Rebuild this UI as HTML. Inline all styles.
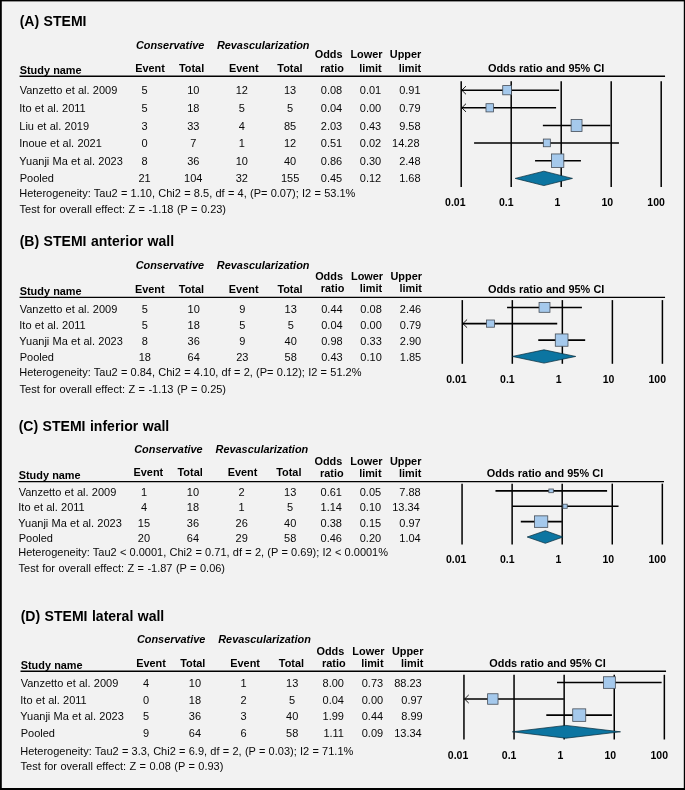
<!DOCTYPE html>
<html><head><meta charset="utf-8"><title>Forest plot</title>
<style>
html,body{margin:0;padding:0;background:#f2f2f2;}
body{width:685px;height:790px;overflow:hidden;position:relative;}
svg{position:absolute;left:0;top:0;display:block;will-change:transform;}
text{font-family:"Liberation Sans",sans-serif;font-size:11px;fill:#080808;word-spacing:0.2px;}
.het{word-spacing:0.2px;}
.tst{word-spacing:0.36px;}
.t{font-size:14.05px;font-weight:bold;fill:#000;word-spacing:0.5px;}
.b{font-weight:bold;fill:#000;font-size:10.9px;}
.bi{font-weight:bold;font-style:italic;fill:#000;font-size:10.9px;}
.ax{font-size:10.5px;font-weight:bold;fill:#000;}
.ln{stroke:#000;stroke-width:1.35;}
.vl{stroke:#000;stroke-width:1.5;}
.ci{stroke:#000;stroke-width:1.55;}
.ar{stroke:#000;stroke-width:0.9;fill:none;}
.sq{fill:#a5c9ec;stroke:#454d57;stroke-width:0.8;}
.dia{fill:#0c75a1;stroke:#062a3a;stroke-width:0.7;}
</style></head>
<body>
<svg width="685" height="790" viewBox="0 0 685 790">
<rect x="0" y="0" width="685" height="790" fill="#f2f2f2"/>
<text x="19.70" y="25.75" class="t">(A) STEMI</text>
<text x="135.90" y="48.75" class="bi">Conservative</text>
<text x="216.90" y="48.75" class="bi">Revascularization</text>
<text x="135.20" y="72.00" class="b">Event</text>
<text x="179.00" y="72.00" class="b">Total</text>
<text x="228.90" y="72.00" class="b">Event</text>
<text x="277.30" y="72.00" class="b">Total</text>
<text x="19.70" y="74.25" class="b">Study name</text>
<text x="342.50" y="57.50" class="b" text-anchor="end">Odds</text>
<text x="343.90" y="71.75" class="b" text-anchor="end">ratio</text>
<text x="382.50" y="57.50" class="b" text-anchor="end">Lower</text>
<text x="381.60" y="71.75" class="b" text-anchor="end">limit</text>
<text x="421.30" y="57.50" class="b" text-anchor="end">Upper</text>
<text x="421.20" y="71.75" class="b" text-anchor="end">limit</text>
<text x="488.00" y="72.00" class="b">Odds ratio and 95% CI</text>
<line x1="19.50" y1="76.25" x2="665.05" y2="76.25" class="ln"/>
<line x1="461.20" y1="81.25" x2="461.20" y2="187.00" class="vl"/>
<line x1="511.20" y1="81.25" x2="511.20" y2="187.00" class="vl"/>
<line x1="561.20" y1="81.25" x2="561.20" y2="187.00" class="vl"/>
<line x1="611.20" y1="81.25" x2="611.20" y2="187.00" class="vl"/>
<line x1="661.20" y1="81.25" x2="661.20" y2="187.00" class="vl"/>
<text x="19.70" y="94.30">Vanzetto et al. 2009</text>
<text x="144.50" y="94.30" text-anchor="middle">5</text>
<text x="193.30" y="94.30" text-anchor="middle">10</text>
<text x="241.80" y="94.30" text-anchor="middle">12</text>
<text x="290.10" y="94.30" text-anchor="middle">13</text>
<text x="342.20" y="94.30" text-anchor="end">0.08</text>
<text x="381.20" y="94.30" text-anchor="end">0.01</text>
<text x="420.60" y="94.30" text-anchor="end">0.91</text>
<text x="19.30" y="112.00">Ito et al. 2011</text>
<text x="144.50" y="112.00" text-anchor="middle">5</text>
<text x="193.30" y="112.00" text-anchor="middle">18</text>
<text x="241.80" y="112.00" text-anchor="middle">5</text>
<text x="290.10" y="112.00" text-anchor="middle">5</text>
<text x="342.20" y="112.00" text-anchor="end">0.04</text>
<text x="381.20" y="112.00" text-anchor="end">0.00</text>
<text x="420.60" y="112.00" text-anchor="end">0.79</text>
<text x="19.30" y="129.50">Liu et al. 2019</text>
<text x="144.50" y="129.50" text-anchor="middle">3</text>
<text x="193.30" y="129.50" text-anchor="middle">33</text>
<text x="241.80" y="129.50" text-anchor="middle">4</text>
<text x="290.10" y="129.50" text-anchor="middle">85</text>
<text x="342.20" y="129.50" text-anchor="end">2.03</text>
<text x="381.20" y="129.50" text-anchor="end">0.43</text>
<text x="420.60" y="129.50" text-anchor="end">9.58</text>
<text x="19.30" y="147.00">Inoue et al. 2021</text>
<text x="144.50" y="147.00" text-anchor="middle">0</text>
<text x="193.30" y="147.00" text-anchor="middle">7</text>
<text x="241.80" y="147.00" text-anchor="middle">1</text>
<text x="290.10" y="147.00" text-anchor="middle">12</text>
<text x="342.20" y="147.00" text-anchor="end">0.51</text>
<text x="381.20" y="147.00" text-anchor="end">0.02</text>
<text x="419.60" y="147.00" text-anchor="end">14.28</text>
<text x="19.30" y="164.50">Yuanji Ma et al. 2023</text>
<text x="144.50" y="164.50" text-anchor="middle">8</text>
<text x="193.30" y="164.50" text-anchor="middle">36</text>
<text x="241.80" y="164.50" text-anchor="middle">10</text>
<text x="290.10" y="164.50" text-anchor="middle">40</text>
<text x="342.20" y="164.50" text-anchor="end">0.86</text>
<text x="381.20" y="164.50" text-anchor="end">0.30</text>
<text x="420.60" y="164.50" text-anchor="end">2.48</text>
<text x="19.70" y="182.00">Pooled</text>
<text x="144.50" y="182.00" text-anchor="middle">21</text>
<text x="193.30" y="182.00" text-anchor="middle">104</text>
<text x="241.80" y="182.00" text-anchor="middle">32</text>
<text x="290.10" y="182.00" text-anchor="middle">155</text>
<text x="342.20" y="182.00" text-anchor="end">0.45</text>
<text x="381.20" y="182.00" text-anchor="end">0.12</text>
<text x="420.60" y="182.00" text-anchor="end">1.68</text>
<text x="19.20" y="197.00" class="het">Heterogeneity: Tau2 = 1.10, Chi2 = 8.5, df = 4, (P= 0.07); I2 = 53.1%</text>
<text x="19.60" y="212.50" class="tst">Test for overall effect: Z = -1.18 (P = 0.23)</text>
<line x1="461.80" y1="90.20" x2="559.15" y2="90.20" class="ci"/>
<polyline points="466.00,86.10 461.80,90.20 466.00,94.30" class="ar"/>
<rect x="502.73" y="85.60" width="8.70" height="9.20" class="sq"/>
<line x1="461.80" y1="107.80" x2="556.08" y2="107.80" class="ci"/>
<polyline points="466.00,103.70 461.80,107.80 466.00,111.90" class="ar"/>
<rect x="485.99" y="103.70" width="7.60" height="8.20" class="sq"/>
<line x1="542.87" y1="125.50" x2="610.27" y2="125.50" class="ci"/>
<rect x="571.12" y="119.50" width="10.90" height="12.00" class="sq"/>
<line x1="474.08" y1="142.90" x2="618.94" y2="142.90" class="ci"/>
<rect x="543.33" y="139.05" width="7.00" height="7.70" class="sq"/>
<line x1="535.06" y1="160.70" x2="580.92" y2="160.70" class="ci"/>
<rect x="551.52" y="153.95" width="12.30" height="13.50" class="sq"/>
<polygon points="515.16,178.40 543.86,171.20 572.47,178.40 543.86,185.60" class="dia"/>
<text x="455.30" y="205.50" class="ax" text-anchor="middle">0.01</text>
<text x="506.30" y="205.50" class="ax" text-anchor="middle">0.1</text>
<text x="557.50" y="205.50" class="ax" text-anchor="middle">1</text>
<text x="607.30" y="205.50" class="ax" text-anchor="middle">10</text>
<text x="656.10" y="205.50" class="ax" text-anchor="middle">100</text>
<text x="19.70" y="245.75" class="t">(B) STEMI anterior wall</text>
<text x="135.66" y="268.50" class="bi">Conservative</text>
<text x="216.85" y="268.50" class="bi">Revascularization</text>
<text x="134.96" y="292.50" class="b">Event</text>
<text x="178.86" y="292.50" class="b">Total</text>
<text x="228.87" y="292.50" class="b">Event</text>
<text x="277.38" y="292.50" class="b">Total</text>
<text x="19.70" y="294.50" class="b">Study name</text>
<text x="342.98" y="279.50" class="b" text-anchor="end">Odds</text>
<text x="344.38" y="292.00" class="b" text-anchor="end">ratio</text>
<text x="383.07" y="279.50" class="b" text-anchor="end">Lower</text>
<text x="382.17" y="292.00" class="b" text-anchor="end">limit</text>
<text x="421.96" y="279.50" class="b" text-anchor="end">Upper</text>
<text x="421.86" y="292.00" class="b" text-anchor="end">limit</text>
<text x="488.00" y="292.50" class="b">Odds ratio and 95% CI</text>
<line x1="19.50" y1="297.30" x2="665.05" y2="297.30" class="ln"/>
<line x1="462.29" y1="300.10" x2="462.29" y2="363.80" class="vl"/>
<line x1="512.32" y1="300.10" x2="512.32" y2="363.80" class="vl"/>
<line x1="562.35" y1="300.10" x2="562.35" y2="363.80" class="vl"/>
<line x1="612.38" y1="300.10" x2="612.38" y2="363.80" class="vl"/>
<line x1="662.41" y1="300.10" x2="662.41" y2="363.80" class="vl"/>
<text x="19.70" y="312.50">Vanzetto et al. 2009</text>
<text x="144.78" y="312.50" text-anchor="middle">5</text>
<text x="193.69" y="312.50" text-anchor="middle">10</text>
<text x="242.30" y="312.50" text-anchor="middle">9</text>
<text x="290.71" y="312.50" text-anchor="middle">13</text>
<text x="342.68" y="312.50" text-anchor="end">0.44</text>
<text x="381.77" y="312.50" text-anchor="end">0.08</text>
<text x="421.26" y="312.50" text-anchor="end">2.46</text>
<text x="19.30" y="328.75">Ito et al. 2011</text>
<text x="144.78" y="328.75" text-anchor="middle">5</text>
<text x="193.69" y="328.75" text-anchor="middle">18</text>
<text x="242.30" y="328.75" text-anchor="middle">5</text>
<text x="290.71" y="328.75" text-anchor="middle">5</text>
<text x="342.68" y="328.75" text-anchor="end">0.04</text>
<text x="381.77" y="328.75" text-anchor="end">0.00</text>
<text x="421.26" y="328.75" text-anchor="end">0.79</text>
<text x="19.30" y="344.50">Yuanji Ma et al. 2023</text>
<text x="144.78" y="344.50" text-anchor="middle">8</text>
<text x="193.69" y="344.50" text-anchor="middle">36</text>
<text x="242.30" y="344.50" text-anchor="middle">9</text>
<text x="290.71" y="344.50" text-anchor="middle">40</text>
<text x="342.68" y="344.50" text-anchor="end">0.98</text>
<text x="381.77" y="344.50" text-anchor="end">0.33</text>
<text x="421.26" y="344.50" text-anchor="end">2.90</text>
<text x="19.70" y="361.00">Pooled</text>
<text x="144.78" y="361.00" text-anchor="middle">18</text>
<text x="193.69" y="361.00" text-anchor="middle">64</text>
<text x="242.30" y="361.00" text-anchor="middle">23</text>
<text x="290.71" y="361.00" text-anchor="middle">58</text>
<text x="342.68" y="361.00" text-anchor="end">0.43</text>
<text x="381.77" y="361.00" text-anchor="end">0.10</text>
<text x="421.26" y="361.00" text-anchor="end">1.85</text>
<text x="19.20" y="376.25" class="het">Heterogeneity: Tau2 = 0.84, Chi2 = 4.10, df = 2, (P= 0.12); I2 = 51.2%</text>
<text x="19.60" y="392.50" class="tst">Test for overall effect: Z = -1.13 (P = 0.25)</text>
<line x1="507.06" y1="307.40" x2="581.91" y2="307.40" class="ci"/>
<rect x="539.06" y="302.50" width="10.90" height="9.80" class="sq"/>
<line x1="462.89" y1="323.60" x2="557.23" y2="323.60" class="ci"/>
<polyline points="467.09,319.50 462.89,323.60 467.09,327.70" class="ar"/>
<rect x="486.48" y="320.00" width="8.00" height="7.20" class="sq"/>
<line x1="538.26" y1="340.10" x2="585.18" y2="340.10" class="ci"/>
<rect x="555.29" y="333.95" width="12.70" height="12.30" class="sq"/>
<polygon points="512.32,356.45 544.01,349.80 575.72,356.45 544.01,363.10" class="dia"/>
<text x="456.39" y="383.10" class="ax" text-anchor="middle">0.01</text>
<text x="507.42" y="383.10" class="ax" text-anchor="middle">0.1</text>
<text x="558.65" y="383.10" class="ax" text-anchor="middle">1</text>
<text x="608.48" y="383.10" class="ax" text-anchor="middle">10</text>
<text x="657.31" y="383.10" class="ax" text-anchor="middle">100</text>
<text x="18.70" y="430.50" class="t">(C) STEMI inferior wall</text>
<text x="134.26" y="452.50" class="bi">Conservative</text>
<text x="215.58" y="452.50" class="bi">Revascularization</text>
<text x="133.56" y="476.40" class="b">Event</text>
<text x="177.53" y="476.40" class="b">Total</text>
<text x="227.63" y="476.40" class="b">Event</text>
<text x="276.22" y="476.40" class="b">Total</text>
<text x="18.70" y="479.00" class="b">Study name</text>
<text x="342.28" y="465.00" class="b" text-anchor="end">Odds</text>
<text x="343.69" y="476.75" class="b" text-anchor="end">ratio</text>
<text x="382.44" y="465.00" class="b" text-anchor="end">Lower</text>
<text x="381.53" y="476.75" class="b" text-anchor="end">limit</text>
<text x="421.39" y="465.00" class="b" text-anchor="end">Upper</text>
<text x="421.29" y="476.75" class="b" text-anchor="end">limit</text>
<text x="486.80" y="476.50" class="b">Odds ratio and 95% CI</text>
<line x1="18.30" y1="481.60" x2="664.00" y2="481.60" class="ln"/>
<line x1="462.06" y1="483.65" x2="462.06" y2="544.50" class="vl"/>
<line x1="512.13" y1="483.65" x2="512.13" y2="544.50" class="vl"/>
<line x1="562.20" y1="483.65" x2="562.20" y2="544.50" class="vl"/>
<line x1="612.27" y1="483.65" x2="612.27" y2="544.50" class="vl"/>
<line x1="662.34" y1="483.65" x2="662.34" y2="544.50" class="vl"/>
<text x="18.70" y="495.75">Vanzetto et al. 2009</text>
<text x="143.99" y="495.75" text-anchor="middle">1</text>
<text x="192.99" y="495.75" text-anchor="middle">10</text>
<text x="241.68" y="495.75" text-anchor="middle">2</text>
<text x="290.17" y="495.75" text-anchor="middle">13</text>
<text x="341.98" y="495.75" text-anchor="end">0.61</text>
<text x="381.13" y="495.75" text-anchor="end">0.05</text>
<text x="420.69" y="495.75" text-anchor="end">7.88</text>
<text x="18.30" y="511.25">Ito et al. 2011</text>
<text x="143.99" y="511.25" text-anchor="middle">4</text>
<text x="192.99" y="511.25" text-anchor="middle">18</text>
<text x="241.68" y="511.25" text-anchor="middle">1</text>
<text x="290.17" y="511.25" text-anchor="middle">5</text>
<text x="341.98" y="511.25" text-anchor="end">1.14</text>
<text x="381.13" y="511.25" text-anchor="end">0.10</text>
<text x="419.69" y="511.25" text-anchor="end">13.34</text>
<text x="18.30" y="526.75">Yuanji Ma et al. 2023</text>
<text x="143.99" y="526.75" text-anchor="middle">15</text>
<text x="192.99" y="526.75" text-anchor="middle">36</text>
<text x="241.68" y="526.75" text-anchor="middle">26</text>
<text x="290.17" y="526.75" text-anchor="middle">40</text>
<text x="341.98" y="526.75" text-anchor="end">0.38</text>
<text x="381.13" y="526.75" text-anchor="end">0.15</text>
<text x="420.69" y="526.75" text-anchor="end">0.97</text>
<text x="18.70" y="541.75">Pooled</text>
<text x="143.99" y="541.75" text-anchor="middle">20</text>
<text x="192.99" y="541.75" text-anchor="middle">64</text>
<text x="241.68" y="541.75" text-anchor="middle">29</text>
<text x="290.17" y="541.75" text-anchor="middle">58</text>
<text x="341.98" y="541.75" text-anchor="end">0.46</text>
<text x="381.13" y="541.75" text-anchor="end">0.20</text>
<text x="420.69" y="541.75" text-anchor="end">1.04</text>
<text x="18.20" y="556.25" class="het">Heterogeneity: Tau2 &lt; 0.0001, Chi2 = 0.71, df = 2, (P = 0.69); I2 &lt; 0.0001%</text>
<text x="18.60" y="571.75" class="tst">Test for overall effect: Z = -1.87 (P = 0.06)</text>
<line x1="495.48" y1="490.85" x2="607.09" y2="490.85" class="ci"/>
<rect x="548.84" y="489.00" width="4.50" height="3.70" class="sq"/>
<line x1="512.13" y1="506.25" x2="618.54" y2="506.25" class="ci"/>
<rect x="562.90" y="504.20" width="4.30" height="4.10" class="sq"/>
<line x1="520.80" y1="521.60" x2="561.87" y2="521.60" class="ci"/>
<rect x="534.56" y="515.85" width="13.20" height="11.50" class="sq"/>
<polygon points="527.20,537.00 545.31,530.70 563.05,537.00 545.31,543.30" class="dia"/>
<text x="456.16" y="563.10" class="ax" text-anchor="middle">0.01</text>
<text x="507.23" y="563.10" class="ax" text-anchor="middle">0.1</text>
<text x="558.50" y="563.10" class="ax" text-anchor="middle">1</text>
<text x="608.37" y="563.10" class="ax" text-anchor="middle">10</text>
<text x="657.24" y="563.10" class="ax" text-anchor="middle">100</text>
<text x="20.70" y="620.50" class="t">(D) STEMI lateral wall</text>
<text x="136.91" y="642.75" class="bi">Conservative</text>
<text x="218.23" y="642.75" class="bi">Revascularization</text>
<text x="136.21" y="666.90" class="b">Event</text>
<text x="180.18" y="666.90" class="b">Total</text>
<text x="230.28" y="666.90" class="b">Event</text>
<text x="278.87" y="666.90" class="b">Total</text>
<text x="20.70" y="669.00" class="b">Study name</text>
<text x="344.28" y="654.50" class="b" text-anchor="end">Odds</text>
<text x="345.69" y="666.75" class="b" text-anchor="end">ratio</text>
<text x="384.44" y="654.50" class="b" text-anchor="end">Lower</text>
<text x="383.53" y="666.75" class="b" text-anchor="end">limit</text>
<text x="423.39" y="654.50" class="b" text-anchor="end">Upper</text>
<text x="423.29" y="666.75" class="b" text-anchor="end">limit</text>
<text x="489.30" y="667.00" class="b">Odds ratio and 95% CI</text>
<line x1="20.50" y1="671.25" x2="666.05" y2="671.25" class="ln"/>
<line x1="463.95" y1="674.80" x2="463.95" y2="739.50" class="vl"/>
<line x1="514.05" y1="674.80" x2="514.05" y2="739.50" class="vl"/>
<line x1="564.15" y1="674.80" x2="564.15" y2="739.50" class="vl"/>
<line x1="614.25" y1="674.80" x2="614.25" y2="739.50" class="vl"/>
<line x1="664.35" y1="674.80" x2="664.35" y2="739.50" class="vl"/>
<text x="20.70" y="687.00">Vanzetto et al. 2009</text>
<text x="145.99" y="687.00" text-anchor="middle">4</text>
<text x="194.99" y="687.00" text-anchor="middle">10</text>
<text x="243.68" y="687.00" text-anchor="middle">1</text>
<text x="292.17" y="687.00" text-anchor="middle">13</text>
<text x="343.98" y="687.00" text-anchor="end">8.00</text>
<text x="383.13" y="687.00" text-anchor="end">0.73</text>
<text x="421.69" y="687.00" text-anchor="end">88.23</text>
<text x="20.30" y="703.75">Ito et al. 2011</text>
<text x="145.99" y="703.75" text-anchor="middle">0</text>
<text x="194.99" y="703.75" text-anchor="middle">18</text>
<text x="243.68" y="703.75" text-anchor="middle">2</text>
<text x="292.17" y="703.75" text-anchor="middle">5</text>
<text x="343.98" y="703.75" text-anchor="end">0.04</text>
<text x="383.13" y="703.75" text-anchor="end">0.00</text>
<text x="422.69" y="703.75" text-anchor="end">0.97</text>
<text x="20.30" y="720.00">Yuanji Ma et al. 2023</text>
<text x="145.99" y="720.00" text-anchor="middle">5</text>
<text x="194.99" y="720.00" text-anchor="middle">36</text>
<text x="243.68" y="720.00" text-anchor="middle">3</text>
<text x="292.17" y="720.00" text-anchor="middle">40</text>
<text x="343.98" y="720.00" text-anchor="end">1.99</text>
<text x="383.13" y="720.00" text-anchor="end">0.44</text>
<text x="422.69" y="720.00" text-anchor="end">8.99</text>
<text x="20.70" y="736.50">Pooled</text>
<text x="145.99" y="736.50" text-anchor="middle">9</text>
<text x="194.99" y="736.50" text-anchor="middle">64</text>
<text x="243.68" y="736.50" text-anchor="middle">6</text>
<text x="292.17" y="736.50" text-anchor="middle">58</text>
<text x="343.98" y="736.50" text-anchor="end">1.11</text>
<text x="383.13" y="736.50" text-anchor="end">0.09</text>
<text x="421.69" y="736.50" text-anchor="end">13.34</text>
<text x="20.20" y="755.00" class="het">Heterogeneity: Tau2 = 3.3, Chi2 = 6.9, df = 2, (P = 0.03); I2 = 71.1%</text>
<text x="20.60" y="770.00" class="tst">Test for overall effect: Z = 0.08 (P = 0.93)</text>
<line x1="557.00" y1="682.55" x2="661.63" y2="682.55" class="ci"/>
<rect x="603.44" y="676.75" width="11.90" height="11.60" class="sq"/>
<line x1="464.55" y1="699.00" x2="563.82" y2="699.00" class="ci"/>
<polyline points="468.75,694.90 464.55,699.00 468.75,703.10" class="ar"/>
<rect x="487.62" y="693.75" width="10.40" height="10.50" class="sq"/>
<line x1="546.29" y1="715.10" x2="611.93" y2="715.10" class="ci"/>
<rect x="572.73" y="708.85" width="13.00" height="12.50" class="sq"/>
<polygon points="512.35,731.80 565.93,725.40 620.52,731.80 565.93,738.20" class="dia"/>
<text x="458.05" y="758.90" class="ax" text-anchor="middle">0.01</text>
<text x="509.15" y="758.90" class="ax" text-anchor="middle">0.1</text>
<text x="560.45" y="758.90" class="ax" text-anchor="middle">1</text>
<text x="610.35" y="758.90" class="ax" text-anchor="middle">10</text>
<text x="659.25" y="758.90" class="ax" text-anchor="middle">100</text>
<rect x="0" y="0" width="685" height="1.4" fill="#000"/>
<rect x="0" y="788" width="685" height="2" fill="#000"/>
<rect x="0" y="0" width="1.8" height="790" fill="#000"/>
<rect x="683.8" y="0" width="1.2" height="790" fill="#000"/>
</svg>
</body></html>
